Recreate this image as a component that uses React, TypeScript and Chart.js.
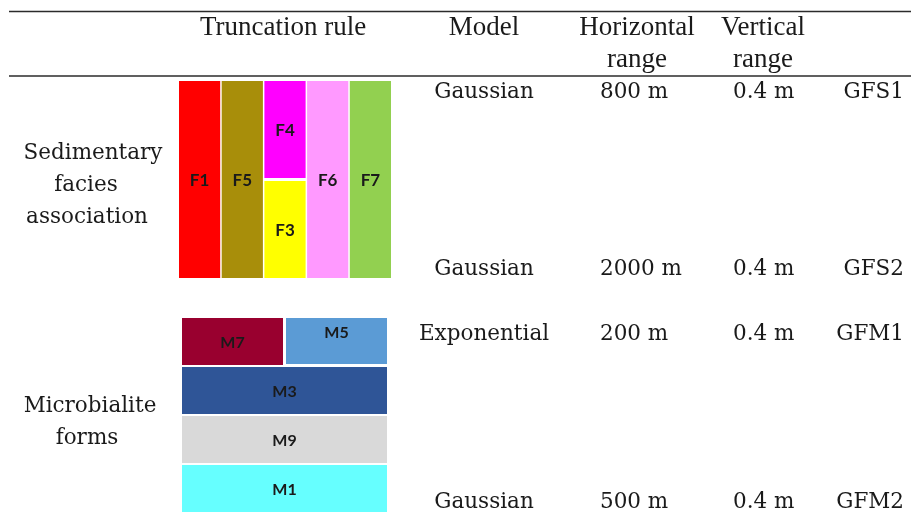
import React, { useEffect, useRef } from "react";
import { Chart, registerables } from "chart.js";

Chart.register(...registerables);

// ---- Data ----
const headerColumns = ["Truncation rule", "Model", "Horizontal\nrange", "Vertical\nrange"];
const groupNames = [["Sedimentary", "facies", "association"], ["Microbialite", "forms"]];

const modelNames = ["Gaussian", "Gaussian", "Exponential", "Gaussian"];
const horizontalRanges = ["800 m", "2000 m", "200 m", "500 m"];
const verticalRanges = ["0.4 m", "0.4 m", "0.4 m", "0.4 m"];
const fieldCodes = ["GFS1", "GFS2", "GFM1", "GFM2"];

// Facies truncation rule: column index, top/bottom fraction of the panel
const faciesLabels = ["F1", "F5", "F4", "F3", "F6", "F7"];
const faciesColors = ["#ff0000", "#a88e0a", "#ff00ff", "#ffff00", "#ff99ff", "#92d050"];
const faciesColumn = [0, 1, 2, 2, 3, 4];
const faciesFrom = [0, 0, 0, 0.5, 0, 0];
const faciesTo = [1, 1, 0.5, 1, 1, 1];

// Microbialite truncation rule: row index, left/right fraction of the panel
const microLabels = ["M7", "M5", "M3", "M9", "M1"];
const microColors = ["#99002f", "#5b9bd5", "#2f5597", "#d9d9d9", "#66ffff"];
const microRow = [0, 0, 1, 2, 3];
const microFrom = [0, 0.5, 0, 0, 0];
const microTo = [0.5, 1, 1, 1, 1];

const W = 911;
const H = 513;

const tablePlugin = {
  id: "tableDraw",
  afterDraw(chart: any) {
    const ctx = chart.ctx as CanvasRenderingContext2D;
    const xs = chart.scales.x;
    const ys = chart.scales.y;
    const px = (v: number) => xs.getPixelForValue(v);
    const py = (v: number) => ys.getPixelForValue(v);
    ctx.save();

    // rules
    ctx.strokeStyle = "#2b2b2b";
    ctx.lineWidth = 1.4;
    [11.5, 76].forEach((yv) => {
      ctx.beginPath();
      ctx.moveTo(px(9), py(yv));
      ctx.lineTo(px(911), py(yv));
      ctx.stroke();
    });

    // header
    ctx.fillStyle = "#1a1a1a";
    ctx.textBaseline = "middle";
    ctx.textAlign = "center";
    ctx.font = "27px 'Liberation Serif'";
    const headerX = [283, 484, 637, 763];
    headerColumns.forEach((h, i) => {
      h.split("\n").forEach((line, j) => {
        ctx.fillText(line, px(headerX[i]), py(28 + j * 32));
      });
    });

    // group labels
    ctx.font = "21.5px 'DejaVu Serif'";
    const groupX = [[93, 86, 87], [90, 87]];
    const groupY = [153, 406];
    groupNames.forEach((g, i) => {
      g.forEach((line, j) => {
        ctx.fillText(line, px(groupX[i][j]), py(groupY[i] + j * 32));
      });
    });

    // table rows
    const rowY = [92.5, 269.5, 334.5, 502.5];
    for (let r = 0; r < modelNames.length; r++) {
      ctx.textAlign = "center";
      ctx.fillText(modelNames[r], px(484), py(rowY[r]));
      ctx.textAlign = "left";
      ctx.fillText(horizontalRanges[r], px(600), py(rowY[r]));
      ctx.fillText(verticalRanges[r], px(733), py(rowY[r]));
      ctx.textAlign = "right";
      ctx.fillText(fieldCodes[r], px(904), py(rowY[r]));
    }

    // facies panel
    const fx0 = 179, fx1 = 391, fy0 = 81, fy1 = 278, fgap = 1.5, nCol = 5;
    const colW = (fx1 - fx0 - fgap * (nCol - 1)) / nCol;
    ctx.font = "bold 17px Lato";
    ctx.textAlign = "center";
    faciesLabels.forEach((lab, i) => {
      const x0 = fx0 + faciesColumn[i] * (colW + fgap);
      const x1 = x0 + colW;
      let y0 = fy0 + faciesFrom[i] * (fy1 - fy0);
      let y1 = fy0 + faciesTo[i] * (fy1 - fy0);
      if (faciesFrom[i] > 0) y0 += 1.5;
      if (faciesTo[i] < 1) y1 -= 1.5;
      ctx.fillStyle = faciesColors[i];
      ctx.fillRect(px(x0), py(y0), px(x1) - px(x0), py(y1) - py(y0));
      ctx.fillStyle = "#1a1a1a";
      ctx.fillText(lab, px((x0 + x1) / 2), py((y0 + y1) / 2 + 1.5));
    });

    // microbialite panel
    const mx0 = 182, mx1 = 387, my0 = 318, my1 = 512, mgap = 2, nRow = 4;
    const rowH = (my1 - my0 - mgap * (nRow - 1)) / nRow;
    const microLabelPos = [0.5, 0.3, 0.5, 0.5, 0.5];
    ctx.font = "bold 16px Lato";
    microLabels.forEach((lab, i) => {
      const y0 = my0 + microRow[i] * (rowH + mgap);
      const y1 = y0 + rowH - (microFrom[i] > 0 ? 1 : 0);
      let x0 = mx0 + microFrom[i] * (mx1 - mx0);
      let x1 = mx0 + microTo[i] * (mx1 - mx0);
      if (microFrom[i] > 0) x0 += 1.5;
      if (microTo[i] < 1) x1 -= 1.5;
      ctx.fillStyle = microColors[i];
      ctx.fillRect(px(x0), py(y0), px(x1) - px(x0), py(y1) - py(y0));
      ctx.fillStyle = "#1a1a1a";
      ctx.fillText(lab, px((x0 + x1) / 2), py(y0 + (y1 - y0) * microLabelPos[i] + 1.5));
    });

    ctx.restore();
  },
};

export default function App() {
  const ref = useRef<HTMLCanvasElement | null>(null);
  useEffect(() => {
    document.body.style.margin = "0";
    const chart = new Chart(ref.current as HTMLCanvasElement, {
      type: "scatter",
      data: { datasets: [{ data: [] }] },
      options: {
        animation: false,
        responsive: false,
        devicePixelRatio: 1,
        layout: { padding: 0 },
        plugins: { legend: { display: false }, tooltip: { enabled: false } },
        scales: {
          x: { type: "linear", min: 0, max: W, display: false },
          y: { type: "linear", min: 0, max: H, reverse: true, display: false },
        },
      },
      plugins: [tablePlugin],
    });
    return () => chart.destroy();
  }, []);
  return (
    <div style={{ width: W, height: H, background: "#fff" }}>
      <canvas ref={ref} width={W} height={H} style={{ display: "block" }} />
    </div>
  );
}
